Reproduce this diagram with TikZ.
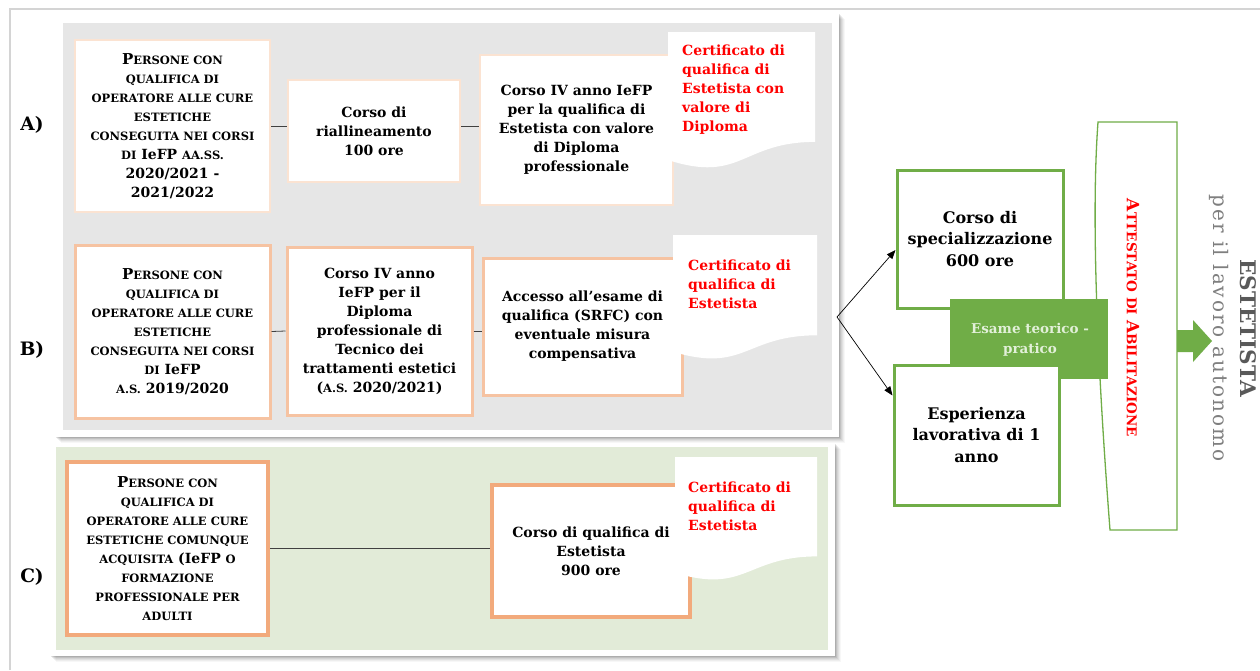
\documentclass[tikz,border=0pt]{standalone}
\usepackage{fontspec}
\setmainfont{DejaVu Serif}
\usetikzlibrary{arrows.meta}
\definecolor{panelgrey}{HTML}{E6E6E6}
\definecolor{panelgreen}{HTML}{E2EBD8}
\definecolor{peachA}{HTML}{FBE3D2}
\definecolor{peachB}{HTML}{F6C3A2}
\definecolor{peachC}{HTML}{F2AA7C}
\definecolor{ogreen}{HTML}{70AD47}
\definecolor{certred}{HTML}{FF0000}
\definecolor{framegrey}{HTML}{D4D4D4}
\definecolor{titlegrey}{HTML}{595959}
\definecolor{subgrey}{HTML}{7F7F7F}
\definecolor{esametext}{HTML}{E2F0D9}
\newcommand\Lsc[1]{{\fontsize{15}{19}\selectfont #1}}
\newcommand\ssc[1]{{\fontsize{11.5}{19}\selectfont #1}}
\tikzset{
  card/.style={fill=white},
  flowbox/.style={fill=white, align=center, inner sep=0pt,
    font=\bfseries\fontsize{14}{19}\selectfont},
  boxA/.style={flowbox, draw=peachA, line width=2.5pt},
  boxB/.style={flowbox, draw=peachB, line width=3pt},
  boxC/.style={flowbox, draw=peachC, line width=3.5pt},
  greenbox/.style={fill=white, draw=ogreen, line width=3pt, align=center, inner sep=0pt,
    font=\bfseries\fontsize{16}{21.5}\selectfont},
  doc/.style={fill=white},
  doctext/.style={anchor=north west, align=left, inner sep=0pt, text=certred,
    font=\bfseries\fontsize{14}{19}\selectfont},
  rowlabel/.style={font=\bfseries\fontsize{18.5}{20}\selectfont},
  link/.style={draw=black!75, line width=0.8pt},
  fork/.style={draw=black, line width=0.7pt, -{Triangle[length=9pt,width=7pt]}},
}
\begin{document}
\begin{tikzpicture}[x=1pt,y=-1pt]
\useasboundingbox (0,0) rectangle (1260,670);
\fill[white] (0,0) rectangle (1260,670);
% outer frame
\draw[framegrey, line width=2pt] (10,670) -- (10,9) -- (1260,9);

% panel A/B with soft shadow
\foreach \d/\o in {1/0.10,2/0.08,3/0.06,4/0.05,5/0.04,6/0.03}
  \fill[black, opacity=\o] (55+\d,13+\d) rectangle (839+\d,437+\d);
\fill[card] (55,13) rectangle (839,437);
\fill[panelgrey] (63,23) rectangle (832,430);
% panel C with soft shadow
\foreach \d/\o in {1/0.10,2/0.08,3/0.06,4/0.05,5/0.04,6/0.03}
  \fill[black, opacity=\o] (50+\d,443+\d) rectangle (835+\d,656+\d);
\fill[card] (50,443) rectangle (835,656);
\fill[panelgreen] (56,447) rectangle (828,650);

% row labels
\node[rowlabel] (LA) at (32,125) {A)};
\node[rowlabel] (LB) at (32,350) {B)};
\node[rowlabel] (LC) at (32,577) {C)};

% row A
\node[boxA, minimum width=195, minimum height=172] (A1) at (172.5,126)
 {\Lsc{P}\ssc{ERSONE CON}\\ \ssc{QUALIFICA DI}\\ \ssc{OPERATORE ALLE CURE}\\ \ssc{ESTETICHE}\\ \ssc{CONSEGUITA NEI CORSI}\\ \ssc{DI} IeFP \ssc{AA.SS.}\\ 2020/2021 -\\ 2021/2022};
\node[boxA, minimum width=172, minimum height=102] (A2) at (374,131)
 {Corso di\\ riallineamento\\ 100 ore};
\node[boxA, minimum width=193, minimum height=150] (A3) at (576.5,130)
 {Corso IV anno IeFP\\ per la qualifica di\\ Estetista con valore\\ di Diploma\\ professionale};
\draw[link] (A1.east) -- (A1.east -| A2.west);
\draw[link] (A1.east -| A2.east) -- (A1.east -| A3.west);
\fill[doc] (668,32) -- (815,32) -- (815,141.9) .. controls (741.5,141.9) and (741.5,183.7) .. (668,160) -- cycle;
\node[doctext] (DA) at (682,44.5) {Certificato di\\ qualifica di\\ Estetista con\\ valore di\\ Diploma};

% row B
\node[boxB, minimum width=195, minimum height=173] (B1) at (172.5,331.5)
 {\Lsc{P}\ssc{ERSONE CON}\\ \ssc{QUALIFICA DI}\\ \ssc{OPERATORE ALLE CURE}\\ \ssc{ESTETICHE}\\ \ssc{CONSEGUITA NEI CORSI}\\ \ssc{DI} IeFP\\ \ssc{A.S.} 2019/2020};
\node[boxB, minimum width=185, minimum height=168] (B2) at (379.5,331)
 {Corso IV anno\\ IeFP per il\\ Diploma\\ professionale di\\ Tecnico dei\\ trattamenti estetici\\ (\ssc{A.S.} 2020/2021)};
\node[boxB, minimum width=199, minimum height=137] (B3) at (582.5,326.5)
 {Accesso all’esame di\\ qualifica (SRFC) con\\ eventuale misura\\ compensativa};
\draw[link] (B1.east) -- (B2.west);
\draw[link] (B2.east) -- (B2.east -| B3.west);
\fill[doc] (673,235) -- (817,235) -- (817,335.3) .. controls (745,335.3) and (745,373.4) .. (673,351.75) -- cycle;
\node[doctext] (DB) at (688,259.5) {Certificato di\\ qualifica di\\ Estetista};

% row C
\node[boxC, minimum width=201, minimum height=173] (C1) at (167.5,548.5)
 {\Lsc{P}\ssc{ERSONE CON}\\ \ssc{QUALIFICA DI}\\ \ssc{OPERATORE ALLE CURE}\\ \ssc{ESTETICHE COMUNQUE}\\ \ssc{ACQUISITA} (IeFP \ssc{O}\\ \ssc{FORMAZIONE}\\ \ssc{PROFESSIONALE PER}\\ \ssc{ADULTI}};
\node[boxC, minimum width=198, minimum height=132] (C2) at (591,551)
 {Corso di qualifica di\\ Estetista\\ 900 ore};
\draw[link] (C1.east) -- (C1.east -| C2.west);
\fill[doc] (675,457) -- (817,457) -- (817,556.4) .. controls (746,556.4) and (746,594.3) .. (675,572.8) -- cycle;
\node[doctext] (DC) at (688,481.5) {Certificato di\\ qualifica di\\ Estetista};

% right side
\coordinate (F) at (837,317);
% bracket
\filldraw[fill=white, draw=ogreen, line width=1.3pt] (1098,122) -- (1177,122) -- (1177,530) -- (1110,530) .. controls (1100,400) and (1090,230) .. (1098,122) -- cycle;
\node[greenbox, minimum width=166, minimum height=138] (S1) at (980,239)
 {Corso di\\ specializzazione\\ 600 ore};
\node[fill=ogreen, minimum width=158, minimum height=80, inner sep=0pt] (EX) at (1029,339) {};
\node[greenbox, minimum width=165, minimum height=140] (S2) at (976.5,435)
 {Esperienza\\ lavorativa di 1\\ anno};
\node[text=esametext, align=center, inner sep=0pt, font=\bfseries\fontsize{13.5}{20}\selectfont] (EXT) at (1030,340) {Esame teorico -\\ pratico};
\draw[fork] (F) -- ([yshift=-11pt]S1.west);
\draw[fork] (F) -- ([yshift=-32pt]S2.north west);
\node[rotate=-90, text=certred, inner sep=0pt, font=\bfseries] (AT) at (1133,318)
 {{\fontsize{17}{19}\selectfont A}{\fontsize{13.5}{19}\selectfont TTESTATO DI }{\fontsize{17}{19}\selectfont A}{\fontsize{13.5}{19}\selectfont BILITAZIONE}};
\fill[ogreen] (1177,330) -- (1193,330) -- (1193,320) -- (1212,341) -- (1193,362) -- (1193,352) -- (1177,352) -- cycle;
\node[rotate=-90, text=titlegrey, inner sep=0pt, font=\bfseries\fontsize{21.5}{24}\selectfont] (T1) at (1248,328) {ESTETISTA};
\node[rotate=-90, text=subgrey, inner sep=0pt, font=\fontsize{20}{22}\selectfont\addfontfeatures{LetterSpace=10}] (T2) at (1219,328) {per il lavoro autonomo};
\end{tikzpicture}
\end{document}
